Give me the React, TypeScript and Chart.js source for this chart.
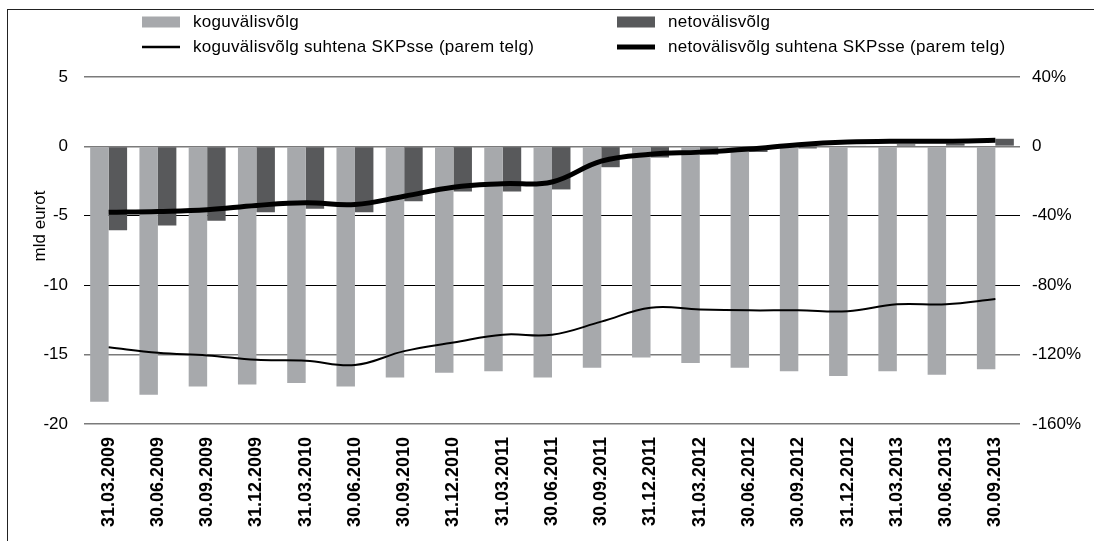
import { useEffect, useRef } from "react";
import { Chart, registerables } from "chart.js";

Chart.register(...registerables);

const categories = [
  "31.03.2009", "30.06.2009", "30.09.2009", "31.12.2009",
  "31.03.2010", "30.06.2010", "30.09.2010", "31.12.2010",
  "31.03.2011", "30.06.2011", "30.09.2011", "31.12.2011",
  "31.03.2012", "30.06.2012", "30.09.2012", "31.12.2012",
  "31.03.2013", "30.06.2013", "30.09.2013",
];

// koguvälisvõlg, mld eurot (left axis)
const koguValues = [
  -18.4, -17.9, -17.3, -17.15, -17.05, -17.3, -16.65, -16.3, -16.2, -16.65,
  -15.95, -15.2, -15.6, -15.95, -16.2, -16.55, -16.2, -16.45, -16.05,
];

// netovälisvõlg, mld eurot (left axis)
const netoValues = [
  -6.05, -5.7, -5.35, -4.75, -4.5, -4.75, -3.95, -3.25, -3.25, -3.1,
  -1.5, -0.8, -0.6, -0.4, -0.15, 0.05, 0.15, 0.2, 0.55,
];

// koguvälisvõlg suhtena SKPsse, % (right axis)
const koguPct = [
  -115.7, -119, -120.5, -123, -123.5, -126, -118, -113, -108.5, -108.5,
  -101, -93, -94, -94.5, -94.5, -95, -91, -91, -88,
];

// netovälisvõlg suhtena SKPsse, % (right axis)
const netoPct = [
  -38, -37.5, -36.5, -34, -32.5, -33.5, -28.7, -23.5, -21.5, -20.5,
  -8.5, -4.5, -3.3, -1.5, 1, 2.5, 3, 3, 3.5,
];

const seriesLabels = [
  "koguvälisvõlg",
  "netovälisvõlg",
  "koguvälisvõlg suhtena SKPsse (parem telg)",
  "netovälisvõlg suhtena SKPsse (parem telg)",
];

const leftAxisTitle = "mld eurot";
const leftTickRange = { min: -20, max: 5, step: 5 };
const rightTickRange = { min: -160, max: 40, step: 40 };

const FONT = '"Liberation Sans", Arial, Helvetica, sans-serif';
const LIGHT = "#a7a9ac";
const DARK = "#58595b";

const overlayPlugin = {
  id: "overlayLegend",
  afterDraw(chart: any) {
    const ctx = chart.ctx as any;
    ctx.save();
    ctx.font = `17px ${FONT}`;
    ctx.textBaseline = "middle";
    ctx.textAlign = "left";
    const items = [
      { ds: 0, x: 142, y: 22 },
      { ds: 1, x: 617, y: 22 },
      { ds: 2, x: 142, y: 47 },
      { ds: 3, x: 617, y: 47 },
    ];
    items.forEach((it) => {
      const ds = chart.data.datasets[it.ds];
      if (ds.type === "line") {
        ctx.strokeStyle = ds.borderColor;
        ctx.lineWidth = it.ds === 3 ? 5 : 2.5;
        ctx.beginPath();
        ctx.moveTo(it.x, it.y);
        ctx.lineTo(it.x + 38, it.y);
        ctx.stroke();
      } else {
        ctx.fillStyle = ds.backgroundColor;
        ctx.fillRect(it.x, it.y - 5.5, 38, 11);
      }
      ctx.fillStyle = "#000";
      ctx.letterSpacing = "0.3px";
      ctx.fillText(ds.label, it.x + 51, it.y);
      ctx.letterSpacing = "0px";
    });
    // left axis title
    ctx.translate(40, 226);
    ctx.rotate(-Math.PI / 2);
    ctx.textAlign = "center";
    ctx.fillText(leftAxisTitle, 0, 0);
    ctx.restore();
  },
};

export default function App() {
  const canvasRef = useRef<HTMLCanvasElement | null>(null);

  useEffect(() => {
    const canvas = canvasRef.current;
    if (!canvas) return;
    const chart = new Chart(canvas, {
      type: "bar",
      data: {
        labels: categories,
        datasets: [
          {
            type: "bar",
            label: seriesLabels[0],
            data: koguValues,
            backgroundColor: LIGHT,
            yAxisID: "y",
            order: 2,
            barPercentage: 1,
            categoryPercentage: 0.75,
          },
          {
            type: "bar",
            label: seriesLabels[1],
            data: netoValues,
            backgroundColor: DARK,
            yAxisID: "y",
            order: 2,
            barPercentage: 1,
            categoryPercentage: 0.75,
          },
          {
            type: "line",
            label: seriesLabels[2],
            data: koguPct,
            borderColor: "#000",
            backgroundColor: "#000",
            borderWidth: 2,
            pointRadius: 0,
            tension: 0.4,
            yAxisID: "y1",
            order: 1,
          },
          {
            type: "line",
            label: seriesLabels[3],
            data: netoPct,
            borderColor: "#000",
            backgroundColor: "#000",
            borderWidth: 5,
            pointRadius: 0,
            tension: 0.4,
            yAxisID: "y1",
            order: 0,
          },
        ] as any,
      },
      options: {
        responsive: false,
        animation: false,
        devicePixelRatio: 1,
        layout: { padding: { top: 77, left: 0, right: 0, bottom: 0 } },
        plugins: {
          legend: { display: false },
          tooltip: { enabled: false },
          title: { display: false },
        },
        scales: {
          x: {
            type: "category",
            grid: { display: false },
            border: { display: false },
            ticks: {
              autoSkip: false,
              maxRotation: 90,
              minRotation: 90,
              padding: 5,
              color: "#000",
              font: { family: FONT, size: 18, weight: "bold" },
            },
            afterFit: (s: any) => {
              s.height = 117;
            },
          },
          y: {
            position: "left",
            min: leftTickRange.min,
            max: leftTickRange.max,
            ticks: {
              stepSize: leftTickRange.step,
              padding: 16,
              color: "#000",
              font: { family: FONT, size: 17 },
            },
            grid: {
              drawTicks: false,
              color: (c: any) =>
                c.tick && (c.tick.value === -5 || c.tick.value === -10) ? "#000" : "#7a7a7a",
              lineWidth: (c: any) =>
                c.tick && (c.tick.value === -5 || c.tick.value === -10) ? 1 : 1.5,
            },
            border: { display: false },
            afterFit: (s: any) => {
              s.width = 84;
            },
          },
          y1: {
            position: "right",
            min: rightTickRange.min,
            max: rightTickRange.max,
            ticks: {
              stepSize: rightTickRange.step,
              padding: 12,
              color: "#000",
              font: { family: FONT, size: 17 },
              callback: (v: any) => (Number(v) === 0 ? "0" : `${v}%`),
            },
            grid: { display: false, drawTicks: false },
            border: { display: false },
            afterFit: (s: any) => {
              s.width = 74;
            },
          },
        },
      } as any,
      plugins: [overlayPlugin],
    });
    return () => chart.destroy();
  }, []);

  return (
    <div
      style={{
        position: "absolute",
        left: 0,
        top: 0,
        width: 1094,
        height: 541,
        overflow: "hidden",
        background: "#fff",
      }}
    >
      <canvas
        ref={canvasRef}
        width={1094}
        height={541}
        style={{ position: "absolute", left: 0, top: 0, display: "block" }}
      />
      <div
        style={{
          position: "absolute",
          left: 7,
          top: 9,
          width: 1200,
          height: 700,
          borderTop: "1.5px solid #222",
          borderLeft: "1.5px solid #222",
          pointerEvents: "none",
        }}
      />
    </div>
  );
}
